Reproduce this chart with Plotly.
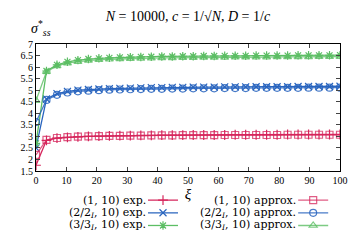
import plotly.graph_objects as go

xi = [0, 3.45, 6.9, 10.34, 13.79, 17.24, 20.69, 24.14, 27.59, 31.03, 34.48, 37.93,
      41.38, 44.83, 48.28, 51.72, 55.17, 58.62, 62.07, 65.52, 68.97, 72.41, 75.86,
      79.31, 82.76, 86.21, 89.66, 93.1, 96.55, 100]

red_exp = [1.75, 2.83, 2.92, 2.96, 2.98, 3.0, 3.01, 3.02, 3.03, 3.03, 3.04, 3.04, 3.05, 3.05, 3.05,
           3.06, 3.06, 3.06, 3.06, 3.07, 3.07, 3.07, 3.07, 3.07, 3.08, 3.08, 3.08, 3.08, 3.08, 3.08]
red_apx = [2.2, 2.85, 2.93, 2.97, 2.99, 3.0, 3.01, 3.02, 3.02, 3.03, 3.03, 3.04, 3.04, 3.04, 3.05,
           3.05, 3.05, 3.05, 3.06, 3.06, 3.06, 3.06, 3.06, 3.06, 3.07, 3.07, 3.07, 3.07, 3.07, 3.07]
blue_exp = [2.5, 4.62, 4.85, 4.95, 5.0, 5.03, 5.05, 5.07, 5.08, 5.09, 5.1, 5.11, 5.11, 5.12, 5.12,
            5.13, 5.13, 5.13, 5.14, 5.14, 5.14, 5.15, 5.15, 5.15, 5.15, 5.16, 5.16, 5.16, 5.16, 5.17]
blue_apx = [3.62, 4.58, 4.8, 4.9, 4.95, 4.98, 5.0, 5.02, 5.03, 5.04, 5.05, 5.06, 5.06, 5.07, 5.07,
            5.08, 5.08, 5.08, 5.09, 5.09, 5.09, 5.1, 5.1, 5.1, 5.1, 5.1, 5.11, 5.11, 5.11, 5.11]
green_exp = [2.7, 5.83, 6.1, 6.23, 6.3, 6.35, 6.38, 6.4, 6.42, 6.43, 6.44, 6.45, 6.46, 6.46, 6.47,
             6.47, 6.48, 6.48, 6.49, 6.49, 6.49, 6.5, 6.5, 6.5, 6.5, 6.51, 6.51, 6.51, 6.51, 6.52]
green_apx = [4.55, 5.8, 6.05, 6.17, 6.24, 6.29, 6.32, 6.34, 6.36, 6.37, 6.38, 6.39, 6.4, 6.4, 6.41,
             6.41, 6.42, 6.42, 6.42, 6.43, 6.43, 6.43, 6.43, 6.44, 6.44, 6.44, 6.44, 6.45, 6.45, 6.45]

labels = ["(1, 10) exp.", "(2/2<sub><i>I</i></sub>, 10) exp.", "(3/3<sub><i>I</i></sub>, 10) exp.",
          "(1, 10) approx.", "(2/2<sub><i>I</i></sub>, 10) approx.", "(3/3<sub><i>I</i></sub>, 10) approx."]
x_ticks = [0, 10, 20, 30, 40, 50, 60, 70, 80, 90, 100]
y_ticks = [1.5, 2, 2.5, 3, 3.5, 4, 4.5, 5, 5.5, 6, 6.5, 7]

RED = "rgb(214,38,92)"
BLUE = "rgb(40,100,190)"
GREEN = "rgb(92,190,100)"
RED_A = "rgba(214,38,92,0.75)"
BLUE_A = "rgba(40,100,190,0.85)"
GREEN_A = "rgba(92,190,100,0.8)"

series = [
    (red_exp, RED, "cross-thin-open", labels[0]),
    (blue_exp, BLUE, "x-thin-open", labels[1]),
    (green_exp, GREEN, "asterisk-open", labels[2]),
    (red_apx, RED_A, "square-open", labels[3]),
    (blue_apx, BLUE_A, "circle-open", labels[4]),
    (green_apx, GREEN_A, "triangle-up-open", labels[5]),
]

FONT = "Liberation Serif"
LFONT = "DejaVu Serif"
fig = go.Figure()
# legend rows (paper coords): text right edge, symbol legend left edge, row centre
row_y = [-0.229, -0.329, -0.429]
text_x = [0.365, 0.857]
sym_x = [0.352, 0.846]
layout_legends = {}
for i, (vals, col, sym, lab) in enumerate(series):
    lname = "legend" if i == 0 else f"legend{i+1}"
    c, r = divmod(i, 3)
    fig.add_trace(go.Scatter(
        x=xi, y=vals, mode="lines+markers", name="\u00a0", legendgroup=lab,
        hovertemplate="%{x}, %{y}<extra></extra>",
        line=dict(color=col, width=1.3),
        marker=dict(symbol=sym, size=7, color=col, line=dict(color=col, width=1.2)),
        legend=lname, showlegend=True))
    layout_legends[lname] = dict(
        x=sym_x[c], y=row_y[r], xanchor="left", yanchor="middle",
        bgcolor="rgba(0,0,0,0)", borderwidth=0,
        font=dict(size=10, family=FONT),
        itemwidth=30, tracegroupgap=0)
    fig.add_annotation(text=lab, xref="paper", yref="paper", x=text_x[c], y=row_y[r],
                       xanchor="right", yanchor="middle", showarrow=False, borderpad=0,
                       font=dict(size=11, family=LFONT, color="black"))

fig.update_layout(
    width=360, height=252,
    margin=dict(l=36, r=20, t=44, b=68),
    paper_bgcolor="white", plot_bgcolor="white",
    font=dict(family=FONT, size=10, color="black"),
    title=dict(text="<i>N</i> = 10000, <i>c</i> = 1/√<i>N</i>, <i>D</i> = 1/<i>c</i>",
               x=0.522, xanchor="center", y=0.935, yanchor="middle",
               font=dict(size=14, family=FONT)),
    **layout_legends,
)
fig.update_xaxes(range=[0, 100], tickvals=x_ticks, ticks="inside", ticklen=4,
                 showline=True, linecolor="black", linewidth=1, mirror="ticks",
                 showgrid=False, zeroline=False,
                 title=dict(text="<i>ξ</i>", font=dict(size=15, family=FONT), standoff=3))
fig.update_yaxes(range=[1.5, 7], tickvals=y_ticks, ticks="inside", ticklen=4,
                 showline=True, linecolor="black", linewidth=1, mirror="ticks",
                 showgrid=False, zeroline=False)
fig.add_annotation(text="<i>σ</i><sup>*</sup><sub><i>ss</i></sub>", xref="paper", yref="paper",
                   x=0.015, y=1.03, xanchor="center", yanchor="bottom", showarrow=False,
                   font=dict(size=14, family=FONT))

fig.write_html("out.html")
